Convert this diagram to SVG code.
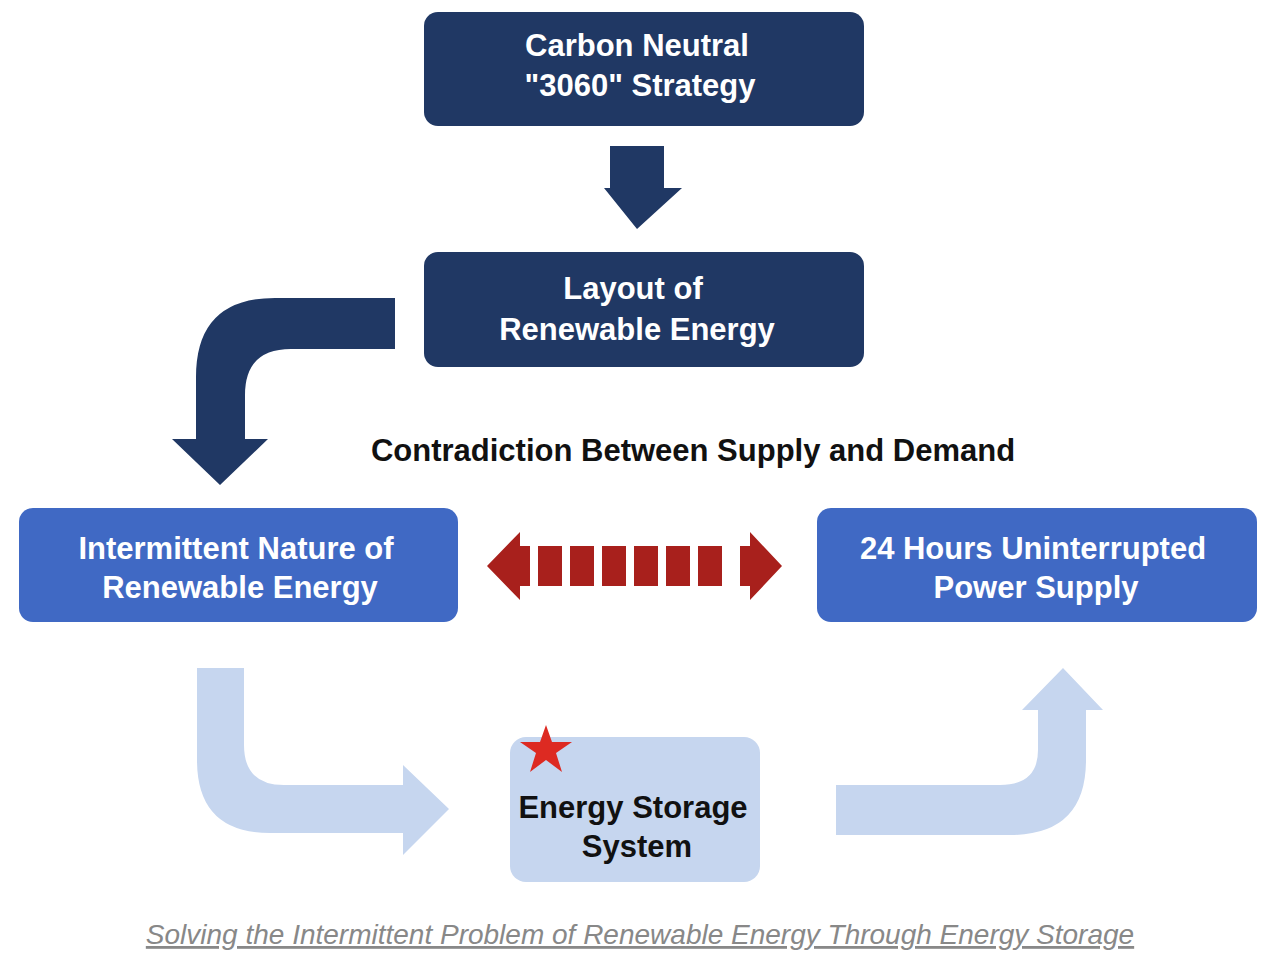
<svg xmlns="http://www.w3.org/2000/svg" width="1270" height="962" viewBox="0 0 1270 962">
<style>
.t{font-family:"Liberation Sans",Arial,sans-serif;font-weight:bold;font-size:31px;text-anchor:middle}
.w{fill:#fff}
.dark{fill:#203864}
.blue{fill:#4069c4}
.lite{fill:#c6d6ef}
</style>
<rect width="1270" height="962" fill="#fff"/>
<g id="connectors">
<path class="dark" d="M395,298 L275,298 Q196,298 196,377 L196,439 L172,439 L220,485 L268,439 L245,439 L245,395 Q245,349 291,349 L395,349 Z"/>
<path class="dark" d="M610,146 L664,146 L664,188 L682,188 L637,229 L604,188 L610,188 Z"/>
<g fill="#a8201c">
<path d="M487,566 L520,532 L520,546 L530,546 L530,586 L520,586 L520,600 Z"/>
<path d="M782,566 L750,532 L750,546 L740,546 L740,586 L750,586 L750,600 Z"/>
<rect x="538" y="546" width="24" height="40"/><rect x="570" y="546" width="24" height="40"/><rect x="602" y="546" width="24" height="40"/><rect x="634" y="546" width="24" height="40"/><rect x="666" y="546" width="24" height="40"/><rect x="698" y="546" width="24" height="40"/><rect x="714" y="546" width="0" height="0"/>
</g>
<path class="lite" d="M197,668 L244,668 L244,745 Q244,785 284,785 L403,785 L403,765 L449,809 L403,855 L403,833 L270,833 Q197,833 197,760 Z"/>
<path class="lite" d="M836,785 L1000,785 Q1038,785 1038,750 L1038,710 L1022,710 L1063,668 L1103,710 L1086,710 L1086,760 Q1086,835 1010,835 L836,835 Z"/>
</g>
<g id="n1"><rect class="dark" x="424" y="12" width="440" height="114" rx="14"/>
<text class="t w" x="637" y="56">Carbon Neutral</text><text class="t w" x="640" y="96">"3060" Strategy</text></g>
<g id="n2"><rect class="dark" x="424" y="252" width="440" height="115" rx="14"/>
<text class="t w" x="633" y="299">Layout of</text><text class="t w" x="637" y="340">Renewable Energy</text></g>
<g id="label"><text class="t" x="693" y="461" style="fill:#111">Contradiction Between Supply and Demand</text></g>
<g id="n3"><rect class="blue" x="19" y="508" width="439" height="114" rx="14"/>
<text class="t w" x="236" y="559">Intermittent Nature of</text><text class="t w" x="240" y="598">Renewable Energy</text></g>
<g id="n4"><rect class="blue" x="817" y="508" width="440" height="114" rx="14"/>
<text class="t w" x="1033" y="559">24 Hours Uninterrupted</text><text class="t w" x="1036" y="598">Power Supply</text></g>
<g id="n5"><rect class="lite" x="510" y="737" width="250" height="145" rx="16"/>
<polygon fill="#dd2a22" points="546,725 552,742 572,742 556,753 562,772 546,760 530,772 536,753 520,742 540,742"/>
<text class="t" x="633" y="818" style="fill:#111">Energy Storage</text><text class="t" x="637" y="857" style="fill:#111">System</text></g>
<g id="caption"><text x="640" y="944" style="font-family:'Liberation Sans',Arial,sans-serif;font-style:italic;font-size:28px;fill:#888;text-anchor:middle;text-decoration:underline">Solving the Intermittent Problem of Renewable Energy Through Energy Storage</text></g>
</svg>
